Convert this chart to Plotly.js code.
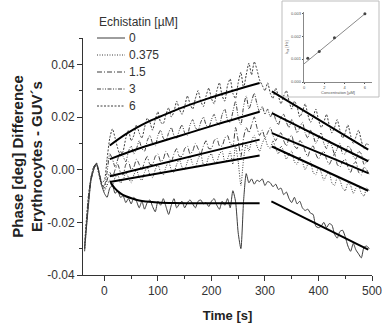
<!DOCTYPE html>
<html>
<head>
<meta charset="utf-8">
<script src="https://cdn.plot.ly/plotly-3.0.1.min.js"></script>
<style>html,body{margin:0;padding:0;background:#fff;}#chart{width:385px;height:323px;}</style>
</head>
<body>
<div id="chart"></div>
<script>
// ---- Data ----
const time = [
  -37,-30,-25,-20,-15,-10,-5,0,5,10,
  15,20,25,30,35,40,45,50,55,60,
  65,70,75,80,85,90,95,100,105,110,
  115,120,125,130,135,140,145,150,155,160,
  165,170,175,180,185,190,195,200,205,210,
  215,220,225,230,235,240,245,250,255,260,
  265,270,275,280,285,290,295,300,305,310,
  315,320,325,330,335,340,345,350,355,360,
  365,370,375,380,385,390,395,400,405,410,
  415,420,425,430,435,440,445,450,455,460,
  465,470,475,480,485,490,495];

const conc0 = [
  -0.030,-0.014,-0.004,0.000,0.0025,-0.001,-0.006,-0.009,-0.0105,-0.007,
  -0.006,-0.009,-0.008,-0.0105,-0.010,-0.0125,-0.011,-0.013,-0.0105,-0.012,
  -0.0145,-0.012,-0.015,-0.0125,-0.0115,-0.014,-0.016,-0.012,-0.0135,-0.011,
  -0.014,-0.017,-0.0135,-0.011,-0.0145,-0.013,-0.012,-0.0145,-0.0125,-0.0115,
  -0.013,-0.0145,-0.012,-0.0115,-0.013,-0.0125,-0.014,-0.012,-0.011,-0.0135,
  -0.015,-0.012,-0.0135,-0.011,-0.0145,-0.008,-0.012,-0.024,-0.030,-0.012,
  -0.0015,-0.005,-0.0035,-0.0055,-0.004,-0.0045,-0.0035,-0.006,-0.0045,-0.005,
  -0.0065,-0.0055,-0.0075,-0.007,-0.0095,-0.0085,-0.011,-0.0125,-0.0105,-0.013,
  -0.012,-0.0145,-0.0155,-0.015,-0.0165,-0.017,-0.0215,-0.022,-0.0215,-0.020,
  -0.022,-0.0205,-0.021,-0.0245,-0.026,-0.0235,-0.023,-0.0255,-0.029,-0.031,
  -0.028,-0.0305,-0.032,-0.0335,-0.0295,-0.029,-0.030];

const conc0375 = [
  -0.029,-0.012,-0.003,0.000,0.002,-0.002,-0.006,-0.008,-0.006,-0.004,
  -0.006,-0.003,-0.002,-0.005,-0.004,-0.001,-0.003,-0.005,-0.002,0.000,
  -0.003,-0.004,-0.001,0.001,-0.002,-0.003,0.000,0.002,-0.001,-0.002,
  0.001,0.003,0.000,-0.001,0.002,0.004,0.001,0.000,0.003,0.005,
  0.002,0.001,0.004,0.006,0.002,0.002,0.005,0.006,0.003,0.003,
  0.006,0.007,0.003,0.004,0.007,0.002,0.009,0.003,-0.006,0.004,
  0.010,0.007,0.011,0.013,0.009,0.007,0.010,0.012,0.009,0.008,
  0.011,0.008,0.006,0.009,0.007,0.004,0.006,0.007,0.003,0.002,
  0.005,0.003,0.000,0.002,0.003,-0.001,-0.002,0.001,-0.001,-0.004,
  -0.002,-0.001,-0.005,-0.006,-0.003,-0.004,-0.007,-0.008,-0.005,-0.006,
  -0.009,-0.007,-0.006,-0.009,-0.010,-0.007,-0.008];

const conc15 = [
  -0.030,-0.011,-0.003,0.001,0.0025,-0.001,-0.005,-0.007,-0.004,-0.001,
  -0.003,0.000,0.002,-0.001,-0.002,0.002,0.003,0.000,0.001,0.004,
  0.002,0.000,0.003,0.005,0.002,0.002,0.005,0.006,0.003,0.004,
  0.007,0.005,0.003,0.006,0.008,0.005,0.005,0.008,0.009,0.006,
  0.007,0.010,0.008,0.006,0.009,0.011,0.008,0.008,0.011,0.012,
  0.009,0.009,0.012,0.013,0.010,0.009,0.016,0.011,0.005,0.012,
  0.016,0.014,0.017,0.020,0.016,0.013,0.015,0.012,0.014,0.016,
  0.013,0.011,0.013,0.014,0.011,0.009,0.012,0.013,0.009,0.008,
  0.011,0.010,0.007,0.005,0.008,0.009,0.006,0.004,0.006,0.007,
  0.004,0.002,0.004,0.006,0.002,0.001,0.003,0.004,0.001,-0.001,
  0.002,0.003,-0.001,-0.002,0.001,0.000,-0.002];

const conc3 = [
  -0.031,-0.013,-0.004,0.000,0.0025,-0.001,-0.006,-0.006,-0.001,0.006,
  0.004,0.001,0.004,0.007,0.005,0.003,0.007,0.009,0.006,0.008,
  0.011,0.008,0.007,0.011,0.013,0.010,0.009,0.013,0.015,0.012,
  0.011,0.014,0.016,0.013,0.012,0.015,0.017,0.014,0.013,0.017,
  0.019,0.016,0.015,0.018,0.020,0.017,0.016,0.019,0.021,0.018,
  0.017,0.021,0.023,0.019,0.018,0.022,0.026,0.020,0.017,0.024,
  0.028,0.023,0.026,0.029,0.025,0.022,0.024,0.021,0.023,0.020,
  0.022,0.019,0.017,0.020,0.021,0.018,0.016,0.019,0.017,0.014,
  0.016,0.018,0.014,0.012,0.015,0.013,0.010,0.012,0.014,0.010,
  0.008,0.011,0.009,0.006,0.008,0.010,0.006,0.006,0.009,0.008,
  0.005,0.004,0.007,0.006,0.002,0.003,0.004];

const conc6 = [
  -0.028,-0.010,-0.003,0.001,0.002,-0.002,-0.005,-0.004,0.004,0.012,
  0.0155,0.012,0.008,0.005,0.007,0.012,0.015,0.011,0.013,0.017,
  0.014,0.012,0.016,0.0195,0.018,0.015,0.019,0.022,0.018,0.0175,
  0.021,0.0235,0.020,0.022,0.026,0.023,0.021,0.024,0.028,0.025,
  0.023,0.027,0.030,0.026,0.024,0.028,0.031,0.027,0.025,0.030,
  0.033,0.028,0.026,0.032,0.0345,0.029,0.027,0.033,0.037,0.031,
  0.036,0.0405,0.036,0.041,0.038,0.034,0.032,0.030,0.033,0.029,
  0.027,0.031,0.028,0.025,0.028,0.030,0.026,0.023,0.026,0.024,
  0.020,0.022,0.025,0.021,0.018,0.020,0.023,0.019,0.016,0.018,
  0.021,0.017,0.014,0.016,0.019,0.015,0.012,0.014,0.017,0.013,
  0.010,0.0125,0.015,0.011,0.008,0.010,0.009];

// Fit lines
const fit0T1 = [12,20,30,40,53,65,78,100,130,200,290];
const fit0Y1 = [-0.005,-0.0072,-0.009,-0.0101,-0.011,-0.0117,-0.0121,-0.0125,-0.0127,-0.0128,-0.0128];
const fit0T2 = [312,493];
const fit0Y2 = [-0.012,-0.0304];

const fitLinT1 = [10,290];
const fitLinT2 = [313,493];
const fit0375Y1 = [-0.0047,0.0054];
const fit0375Y2 = [0.0088,-0.0080];
const fit15Y1 = [-0.0025,0.0114];
const fit15Y2 = [0.0139,-0.0013];
const fit3T1 = [10,70,140,210,290];
const fit3Y1 = [0.0040,0.0084,0.0128,0.0172,0.0220];
const fit3Y2 = [0.0215,0.0032];
const fit6T1 = [10,40,70,100,140,190,240,290];
const fit6Y1 = [0.0092,0.0135,0.0170,0.0198,0.0232,0.0268,0.0300,0.0329];
const fit6Y2 = [0.0297,0.0076];

// Inset
const insetConc = [0.375,1.5,3,6];
const insetK = [0.00103,0.00133,0.00193,0.00297];
const insetFitX = [0,6];
const insetFitY = [0.00079,0.00297];

const legendTitle = 'Echistatin [µM]';
const legendNames = ['0','0.375','1.5','3','6'];
const yTickVals = [-0.04,-0.02,0,0.02,0.04];
const yTickText = ['-0.04','-0.02','0.00','0.02','0.04'];

// ---- Build ----
const FONT = 'Liberation Sans, Arial, sans-serif';
const rawColor = '#3c3c3c';
const series = [conc0, conc0375, conc15, conc3, conc6];
const dashes = ['solid', '1px,1.5px', '5px,2px,1px,2px', '4px,1.5px,1px,1.5px,1px,1.5px', '2px,1.5px'];
const traces = [];
series.forEach((ys, i) => {
  traces.push({
    x: time, y: ys, type: 'scatter', mode: 'lines', name: legendNames[i], showlegend: false,
    line: {color: rawColor, width: 1, dash: dashes[i], shape: 'spline', smoothing: 0.6},
    xaxis: 'x', yaxis: 'y'
  });
});
const fitStyle = {color: '#000', width: 2};
function fitTrace(xs, ys, spline) {
  return {x: xs, y: ys, type: 'scatter', mode: 'lines', showlegend: false,
    line: Object.assign({}, fitStyle, spline ? {shape: 'spline'} : {}), xaxis: 'x', yaxis: 'y', hoverinfo: 'skip'};
}
traces.push(fitTrace(fit0T1, fit0Y1, true));
traces.push(fitTrace(fit0T2, fit0Y2));
traces.push(fitTrace(fitLinT1, fit0375Y1));
traces.push(fitTrace(fitLinT2, fit0375Y2));
traces.push(fitTrace(fitLinT1, fit15Y1));
traces.push(fitTrace(fitLinT2, fit15Y2));
traces.push(fitTrace(fit3T1, fit3Y1, true));
traces.push(fitTrace(fitLinT2, fit3Y2));
traces.push(fitTrace(fit6T1, fit6Y1, true));
traces.push(fitTrace(fitLinT2, fit6Y2));

// inset traces
traces.push({x: insetFitX, y: insetFitY, type: 'scatter', mode: 'lines', showlegend: false,
  line: {color: '#8a8a8a', width: 1}, xaxis: 'x2', yaxis: 'y2'});
traces.push({x: insetConc, y: insetK, type: 'scatter', mode: 'markers', showlegend: false,
  marker: {color: '#444', size: 3, symbol: 'circle'}, xaxis: 'x2', yaxis: 'y2'});

const W = 385, H = 323;
const plotL = 83, plotR = 372, plotT = 38, plotB = 275;

// Legend drawn as annotations + line samples (paper coords)
const legX0 = 97, legX1 = 125, legTextX = 127, legTitleY = 22, legY0 = 38, legDy = 17;
const annotations = [{
  xref: 'paper', yref: 'paper', x: legX0 / W, y: 1 - legTitleY / H, xanchor: 'left', yanchor: 'middle',
  text: legendTitle, showarrow: false, font: {family: FONT, size: 12, color: '#333'}
}];
const shapes = [{
  type: 'rect', xref: 'paper', yref: 'paper', layer: 'below',
  x0: 282 / W, x1: 379 / W, y0: (H - 97) / H, y1: (H - 1) / H,
  line: {color: '#bdbdbd', width: 1}, fillcolor: '#fff'
}];
legendNames.forEach((nm, i) => {
  const py = legY0 + i * legDy;
  annotations.push({
    xref: 'paper', yref: 'paper', x: legTextX / W, y: 1 - py / H, xanchor: 'left', yanchor: 'middle',
    text: nm, showarrow: false, font: {family: FONT, size: 12, color: '#333'}
  });
  shapes.push({
    type: 'line', xref: 'paper', yref: 'paper', x0: legX0 / W, x1: legX1 / W, y0: 1 - py / H, y1: 1 - py / H,
    line: {color: rawColor, width: 1, dash: dashes[i]}
  });
});

const layout = {
  width: W, height: H,
  margin: {l: 0, r: 0, t: 0, b: 0, pad: 0},
  paper_bgcolor: '#fff', plot_bgcolor: 'rgba(0,0,0,0)',
  font: {family: FONT, color: '#333', size: 12},
  showlegend: false,
  xaxis: {
    domain: [plotL / W, plotR / W], range: [-40, 500],
    showline: true, linecolor: '#333', linewidth: 1, mirror: false,
    ticks: 'outside', ticklen: 5, tickwidth: 1, tickcolor: '#333',
    tick0: 0, dtick: 100, showgrid: false, zeroline: false,
    minor: {ticks: 'outside', ticklen: 3, tickcolor: '#333', dtick: 50, tick0: 0, showgrid: false},
    tickfont: {family: FONT, size: 12, color: '#333'},
    title: {text: '<b>Time [s]</b>', font: {family: FONT, size: 13, color: '#222'}},
    anchor: 'y'
  },
  yaxis: {
    domain: [(H - plotB) / H, (H - plotT) / H], range: [-0.04, 0.05],
    showline: true, linecolor: '#333', linewidth: 1,
    ticks: 'outside', ticklen: 5, tickwidth: 1, tickcolor: '#333',
    tickvals: yTickVals, ticktext: yTickText, showgrid: false, zeroline: false,
    minor: {ticks: 'outside', ticklen: 3, tickcolor: '#333', tickvals: [-0.03,-0.01,0.01,0.03,0.05], showgrid: false},
    tickfont: {family: FONT, size: 12, color: '#333'},
    title: {text: '<b>Phase [deg] Difference<br>Erythrocytes - GUV´s</b>', font: {family: FONT, size: 15, color: '#222'}},
    anchor: 'x'
  },
  xaxis2: {
    domain: [304 / W, 372 / W], range: [0, 6.7], anchor: 'y2',
    showline: true, linecolor: '#555', linewidth: 0.7, ticks: 'outside', ticklen: 1.5, tickcolor: '#555',
    tickvals: [0,2,4,6], showgrid: false, zeroline: false,
    tickfont: {family: FONT, size: 4, color: '#555'},
    title: {text: 'Concentration [µM]', font: {family: FONT, size: 4, color: '#555'}, standoff: 2}
  },
  yaxis2: {
    domain: [(H - 82) / H, (H - 12) / H], range: [0, 0.00305], anchor: 'x2',
    showline: true, linecolor: '#555', linewidth: 0.7, ticks: 'outside', ticklen: 1.5, tickcolor: '#555',
    tickvals: [0,0.001,0.002,0.003], ticktext: ['0.000','0.001','0.002','0.003'],
    showgrid: false, zeroline: false,
    tickfont: {family: FONT, size: 4, color: '#555'},
    title: {text: 'k<sub>on</sub> [Hz]', font: {family: FONT, size: 4, color: '#555'}, standoff: 2}
  },
  annotations: annotations,
  shapes: shapes
};

Plotly.newPlot('chart', traces, layout, {staticPlot: true, displayModeBar: false});
</script>
</body>
</html>
